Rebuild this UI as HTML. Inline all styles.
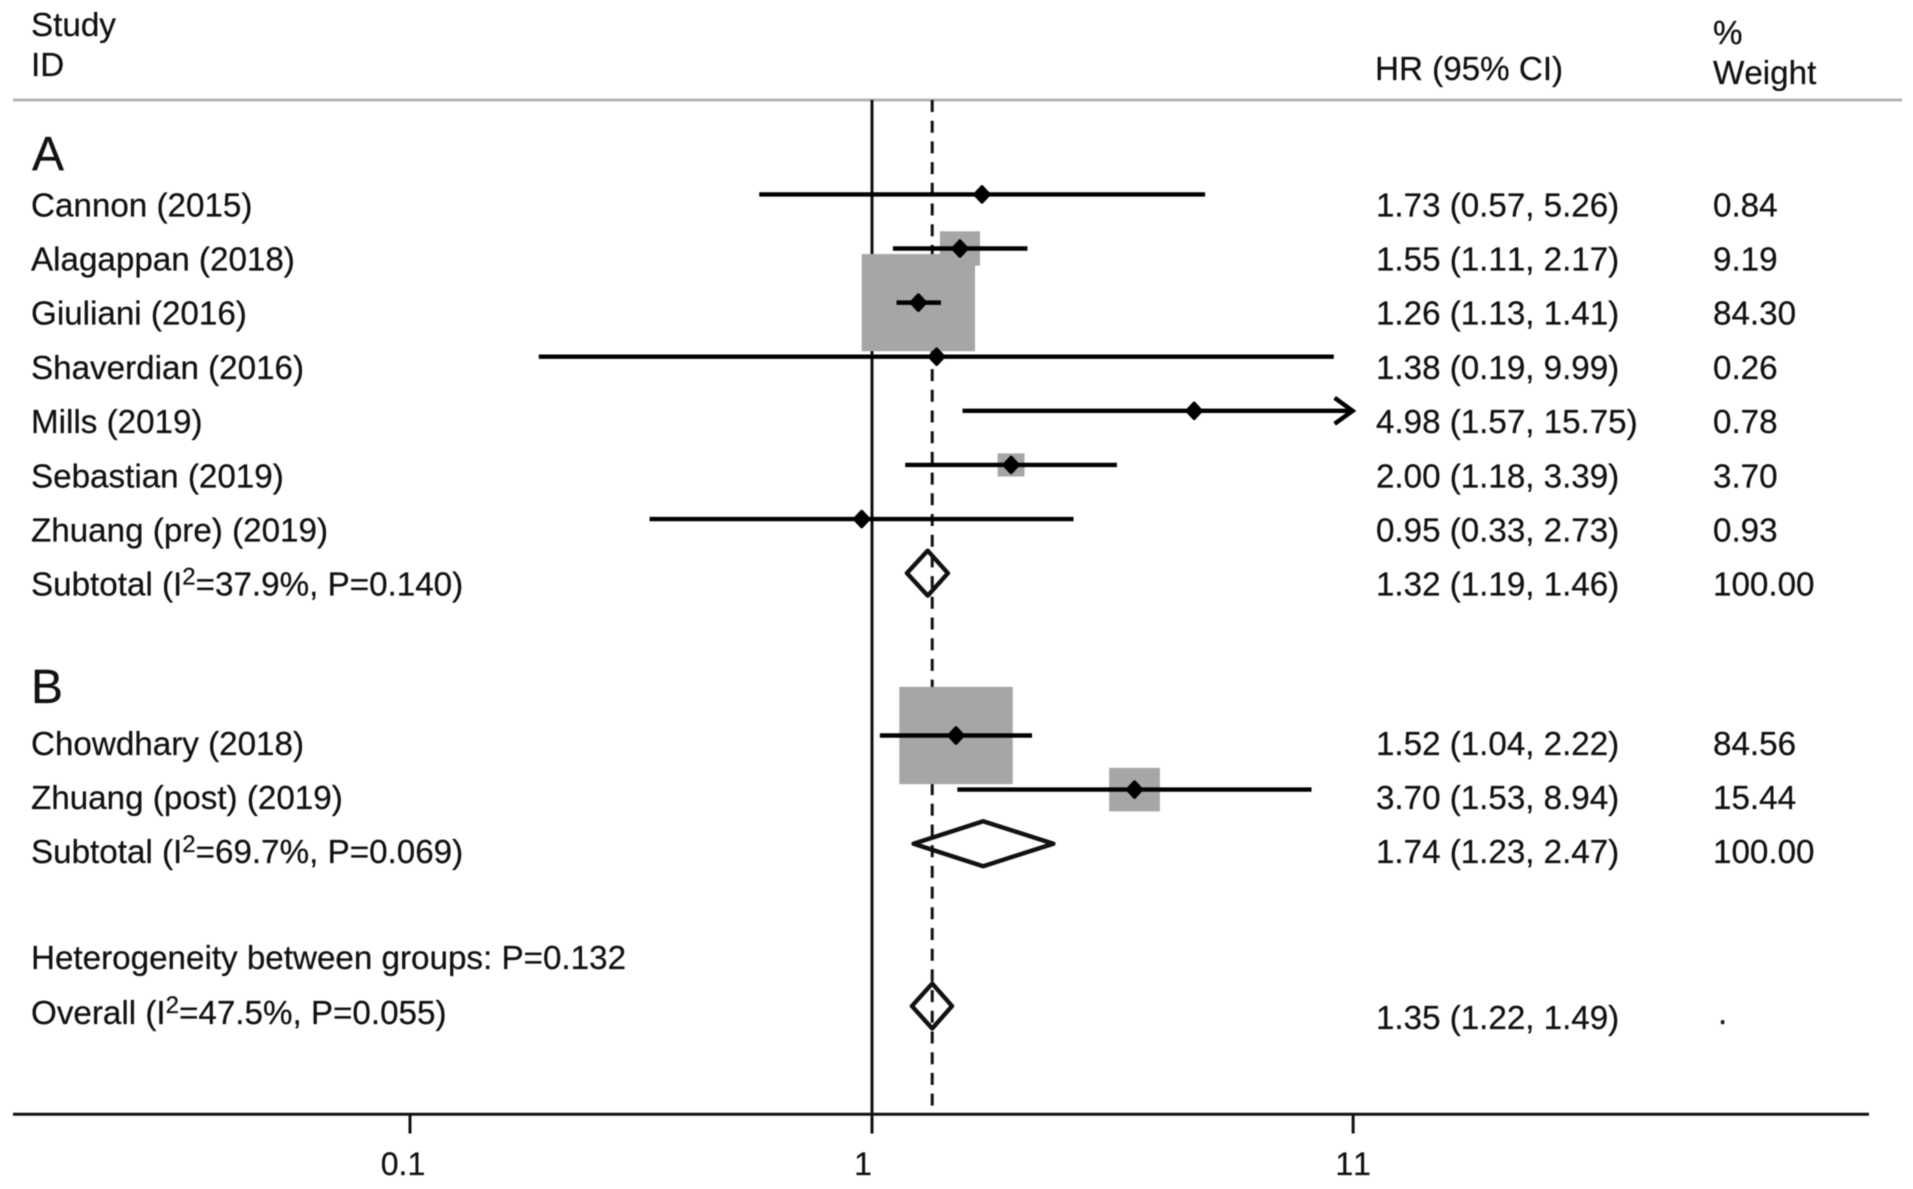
<!DOCTYPE html>
<html lang="en">
<head>
<meta charset="utf-8">
<title>Forest plot of hazard ratios</title>
<style>
html,body{margin:0;padding:0;background:#fff;width:1913px;height:1189px;overflow:hidden}
svg{display:block;filter:blur(0.6px)}
text{font-family:"Liberation Sans",Arial,sans-serif;font-size:33.2px;fill:#111;stroke:#111;stroke-width:0.25px;font-kerning:none}
</style>
</head>
<body>
<svg id="forest" xmlns="http://www.w3.org/2000/svg" width="1913" height="1189" viewBox="0 0 1913 1189">
  <rect x="0" y="0" width="1913" height="1189" fill="#fff"/>
  <text x="31" y="36">Study</text>
  <text x="31" y="76">ID</text>
  <text x="1375" y="80">HR (95% CI)</text>
  <text x="1713" y="44">%</text>
  <text x="1713" y="84">Weight</text>
  <line x1="13" x2="1902" y1="100" y2="100" stroke="#b4b4b4" stroke-width="3"/>
  <text x="32" y="170" style="font-size:48px">A</text>
  <text x="31" y="703" style="font-size:48px">B</text>
  <text x="31" y="969">Heterogeneity between groups: P=0.132</text>
</svg>
<script>
// Row-aligned data; blank strings / nulls are spacer rows in the plot.
const studyLabels = ['Cannon (2015)','Alagappan (2018)','Giuliani (2016)','Shaverdian (2016)','Mills (2019)','Sebastian (2019)','Zhuang (pre) (2019)','Subtotal (I^2=37.9%, P=0.140)','','','Chowdhary (2018)','Zhuang (post) (2019)','Subtotal (I^2=69.7%, P=0.069)','','','Overall (I^2=47.5%, P=0.055)'];
const hazardRatios = [1.73,1.55,1.26,1.38,4.98,2.00,0.95,1.32,null,null,1.52,3.70,1.74,null,null,1.35];
const lowerCI = [0.57,1.11,1.13,0.19,1.57,1.18,0.33,1.19,null,null,1.04,1.53,1.23,null,null,1.22];
const upperCI = [5.26,2.17,1.41,9.99,15.75,3.39,2.73,1.46,null,null,2.22,8.94,2.47,null,null,1.49];
const weights = [0.84,9.19,84.30,0.26,0.78,3.70,0.93,100.00,null,null,84.56,15.44,100.00,null,null,null];
const isSummary = [false,false,false,false,false,false,false,true,false,false,false,false,true,false,false,true];
const xTickValues = [0.1,1,11];
const xTickLabels = ['0.1','1','11'];
const nullValue = 1;
const overallValue = 1.35;
const axisMax = 11;

const svg = document.getElementById('forest');
const NS = 'http://www.w3.org/2000/svg';
function make(tag, attrs, parent) {
  const el = document.createElementNS(NS, tag);
  for (const k in attrs) el.setAttribute(k, attrs[k]);
  (parent || svg).appendChild(el);
  return el;
}
function xScale(v) { return 872 + 462 * Math.log10(v); }
function lineY(row) { return 194.4 + 54.11 * row; }
function textY(row) {
  if (row === 15) return 1024;
  if (row <= 7) return 216.3 + 54.2 * row;
  return 755 + 54 * (row - 10);
}
function slug(s) { return s.split(' ')[0].toLowerCase() + '-' + s.replace(/[^0-9]/g, '').slice(0, 4); }

const AXIS_Y = 1114.3;

// reference lines (drawn first so boxes cover them)
const nullLine = make('line', {x1: xScale(nullValue), x2: xScale(nullValue), y1: 100, y2: 1133, stroke: '#111', 'stroke-width': 3});


const overallLine = make('line', {x1: xScale(overallValue), x2: xScale(overallValue), y1: 100, y2: AXIS_Y, stroke: '#111', 'stroke-width': 3, 'stroke-dasharray': '12 8.7'});



// x axis
const axisLine = make('line', {x1: 13, x2: 1869, y1: AXIS_Y, y2: AXIS_Y, stroke: '#111', 'stroke-width': 3});


const tickLabelNudge = [-7, -9, 0];
xTickValues.forEach(function (v, i) {
  const tick = make('line', {x1: xScale(v), x2: xScale(v), y1: AXIS_Y, y2: 1133.5, stroke: '#111', 'stroke-width': 3});
  
  
  const lab = make('text', {x: xScale(v) + tickLabelNudge[i], y: 1175, 'text-anchor': 'middle'});
  
  
  lab.style.fontSize = '32px';
  lab.textContent = xTickLabels[i];
});

// weight boxes
studyLabels.forEach(function (label, r) {
  if (hazardRatios[r] === null || isSummary[r] || weights[r] < 1) return;
  const root = Math.sqrt(weights[r]);
  const w = 11.9 * root + 4;
  const h = 10.2 * root + 3.5;
  const box = make('rect', {x: xScale(hazardRatios[r]) - w / 2, y: lineY(r) - h / 2, width: w, height: h, fill: '#a6a6a6'});
  
  
});

// CI lines, markers, diamonds, text
studyLabels.forEach(function (label, r) {
  if (hazardRatios[r] !== null) {
    const cy = lineY(r);
    if (isSummary[r]) {
      const half = 22.5;
      const d = make('polygon', {
        points: [xScale(lowerCI[r]) + ',' + cy, xScale(hazardRatios[r]) + ',' + (cy - half), xScale(upperCI[r]) + ',' + cy, xScale(hazardRatios[r]) + ',' + (cy + half)].join(' '),
        fill: 'none', stroke: '#111', 'stroke-width': 4.4, 'stroke-linejoin': 'round'
      });
      
      
    } else {
      const clipped = upperCI[r] > axisMax;
      const xHi = xScale(Math.min(upperCI[r], axisMax));
      const ci = make('line', {x1: xScale(lowerCI[r]), x2: xHi, y1: cy, y2: cy, stroke: '#000', 'stroke-width': 4.4});
      
      
      if (clipped) {
        const arrow = make('polyline', {points: (xHi - 18.5) + ',' + (cy - 13) + ' ' + (xHi - 0.5) + ',' + cy + ' ' + (xHi - 18.5) + ',' + (cy + 13), fill: 'none', stroke: '#000', 'stroke-width': 4.4});
        
        
      }
      const px = xScale(hazardRatios[r]);
      const pt = make('polygon', {points: (px - 7) + ',' + cy + ' ' + px + ',' + (cy - 7.5) + ' ' + (px + 7) + ',' + cy + ' ' + px + ',' + (cy + 7.5), fill: '#000', stroke: '#000', 'stroke-width': 3.5, 'stroke-linejoin': 'round'});
      
      
    }
  }
  if (label) {
    const yT = textY(r);
    const t = make('text', {x: 31, y: yT});
    
    
    const parts = label.split('^2');
    if (parts.length === 2) {
      const a = make('tspan', {}, t);
      a.textContent = parts[0];
      const s = make('tspan', {dy: -11}, t);
      s.style.fontSize = '24px';
      s.textContent = '2';
      const b = make('tspan', {dy: 11}, t);
      b.textContent = parts[1];
    } else {
      t.textContent = label;
    }
    const hr = make('text', {x: 1376, y: r === 15 ? 1029 : yT});
    
    
    hr.style.fontSize = '33.15px';
    hr.textContent = hazardRatios[r].toFixed(2) + ' (' + lowerCI[r].toFixed(2) + ', ' + upperCI[r].toFixed(2) + ')';
    const wt = make('text', {x: weights[r] === null ? 1718 : 1713, y: yT});
    
    
    wt.textContent = weights[r] === null ? '.' : weights[r].toFixed(2);
  }
});
</script>
</body>
</html>
